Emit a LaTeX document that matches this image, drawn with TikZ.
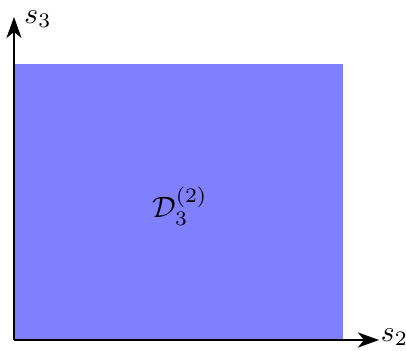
\documentclass[tikz,border=0pt]{standalone}
\usetikzlibrary{arrows.meta}
\definecolor{regionblue}{RGB}{128,128,255}
\tikzset{
  axis/.style={line width=2.4pt,-{Stealth[length=21pt,width=15pt,inset=6pt]}},
  biglabel/.style={inner sep=0pt,scale=2.95},
  region/.style={fill=regionblue,draw=none}
}
\begin{document}
\begin{tikzpicture}[x=1pt,y=1pt]
\useasboundingbox (0,0) rectangle (406,350);
\coordinate (O) at (14,10);
\coordinate (X) at (379,10);
\coordinate (Y) at (14,333);
\coordinate (R) at (343,286);
\fill[region] (O) rectangle (R);
\node[biglabel] (D) at (180,144) {$\mathcal{D}_3^{(2)}$};
\draw[axis] (O) -- (X);
\draw[axis] (O) -- (Y);
\node[biglabel] (s2) at (394.5,13) {$s_2$};
\node[biglabel] (s3) at (38,331) {$s_3$};
\end{tikzpicture}
\end{document}
